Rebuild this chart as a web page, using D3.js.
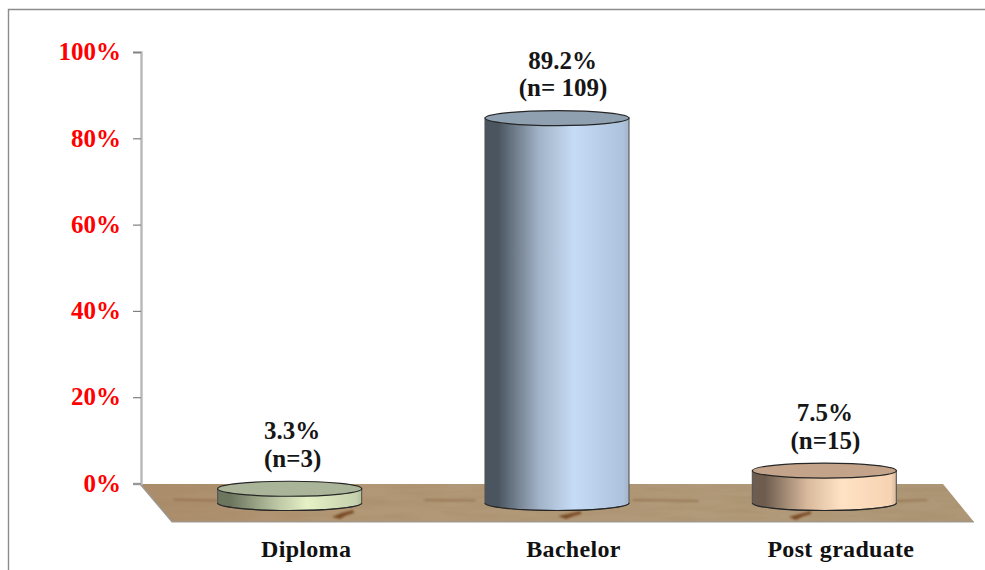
<!DOCTYPE html>
<html>
<head>
<meta charset="utf-8">
<title>Education level of respondents</title>
<script src="https://cdn.jsdelivr.net/npm/d3@7/dist/d3.min.js"></script>
<style>
  html, body { margin: 0; padding: 0; background: #fff; }
  svg { display: block; }
  text { font-family: "Liberation Serif", "Times New Roman", serif; font-weight: bold; }
</style>
</head>
<body>
<svg id="chart" width="985" height="570"></svg>
<script>
// Chart data
const categories = ["Diploma", "Bachelor", "Post graduate"];
const percentages = [3.3, 89.2, 7.5];
const percentLabels = ["3.3%", "89.2%", "7.5%"];
const countLabels = ["(n=3)", "(n= 109)", "(n=15)"];
const axisTicks = [0, 20, 40, 60, 80, 100];

// Cylinder colour ramps: dark left edge, midtone, highlight, right edge, lid
const sideDark = ["#6c755e", "#4a555f", "#6e5d4f"];
const sideMid = ["#b4bf9e", "#a3b4c9", "#d8b99c"];
const sideLight = ["#e6f1c6", "#c6dcf6", "#ffe2c4"];
const sideEdge = ["#c6d1ae", "#adc2dc", "#f6d3b2"];
const lidFill = ["#a9b498", "#8fa0b1", "#c3a389"];

const svg = d3.select("#chart");
const defs = svg.append("defs");

const y = d3.scaleLinear().domain([0, 100]).range([483.5, 52]);
const x = d3.scaleBand().domain(categories).range([156, 958]);

// Shared 3D geometry
const axisX = 141;
const floorTop = 484, floorBottom = 522;
const depth = 19.5;          // baseline of the cylinders sits below the zero line
const ry = 7.5;
const barWidth = 144;
const floorPath = `M${axisX - 1},${floorTop}L943,${floorTop}L974,${floorBottom}L172,${floorBottom}Z`;

// Small horizontal corrections for the labels above each cylinder
const labelShift = [2.5, 5.5, 0.5];

// Outer frame: top and left rules only
svg.append("path")
  .attr("d", "M985,9.5H8.5V570")
  .attr("fill", "none").attr("stroke", "#8c8c8c").attr("stroke-width", 1.4);

// Wooden floor: warm to the left, paler to the right
const wood = defs.append("linearGradient").attr("id", "wood")
  .attr("x1", 0).attr("x2", 1).attr("y1", 0).attr("y2", 0);
[[0, "#ab8d6b"], [0.25, "#b39877"], [0.5, "#b09878"], [0.75, "#b29b7b"], [1, "#ad9776"]]
  .forEach(([o, c]) => wood.append("stop").attr("offset", o).attr("stop-color", c));

defs.append("filter").attr("id", "soft")
  .attr("x", "-30%").attr("y", "-150%").attr("width", "160%").attr("height", "400%")
  .append("feGaussianBlur").attr("stdDeviation", 1.2);

// Fine mottling of the board, stretched along the grain
const mottle = defs.append("filter").attr("id", "mottle")
  .attr("filterUnits", "userSpaceOnUse")
  .attr("x", 130).attr("y", floorTop).attr("width", 850).attr("height", 40);
mottle.append("feTurbulence").attr("type", "fractalNoise")
  .attr("baseFrequency", "0.018 0.14").attr("numOctaves", 3).attr("seed", 4);
mottle.append("feColorMatrix").attr("type", "matrix")
  .attr("values", "0 0 0 0 0.36  0 0 0 0 0.24  0 0 0 0 0.12  1.6 0 0 0 -0.62");

defs.append("clipPath").attr("id", "floorClip").append("path").attr("d", floorPath);

svg.append("path").attr("d", floorPath).attr("fill", "url(#wood)");
svg.append("g").attr("clip-path", "url(#floorClip)")
  .append("rect")
  .attr("x", 130).attr("y", floorTop).attr("width", 850).attr("height", 40)
  .attr("filter", "url(#mottle)").attr("opacity", 0.45);
svg.append("path")
  .attr("d", `M${axisX - 1},${floorTop}L172,${floorBottom}L974,${floorBottom}`)
  .attr("fill", "none").attr("stroke", "#9a9a9a").attr("stroke-width", 1.2);

// Grain streaks across the board
const grain = svg.append("g").attr("filter", "url(#soft)")
  .attr("stroke", "#7d5630").attr("fill", "none").attr("stroke-linecap", "round");
["M174,499.5L217,500.5", "M425,500L475,500.5", "M633,500L698,501", "M897,501L927,500"]
  .forEach(d => grain.append("path").attr("d", d).attr("stroke-width", 1.4).attr("opacity", 0.6));

// Dark knots in the wood
svg.append("g").attr("filter", "url(#soft)").attr("fill", "#7a4c28")
  .selectAll("path")
  .data(["M332,517Q342,512 353,510L354,513Q345,515 340,519Z",
         "M558,516Q568,514 581,511L581,514Q572,516 566,519Z",
         "M789,517Q799,514 811,511L811,514Q802,516 796,520Z"])
  .join("path").attr("d", d => d);

// Value axis
const axis = svg.append("g")
  .attr("transform", `translate(${axisX},0)`)
  .call(d3.axisLeft(y).tickValues(axisTicks).tickFormat(d => d + "%").tickSize(8).tickPadding(12));
axis.select(".domain").attr("stroke", "#b8b8b8").attr("stroke-width", 2.4);
axis.selectAll(".tick line").attr("stroke", "#808080").attr("stroke-width", 1.2);
axis.selectAll(".tick text")
  .attr("fill", "#ff0000")
  .attr("font-size", 25)
  .attr("font-family", "Liberation Serif")
  .attr("dy", "0.31em");

// Cylinders
percentages.forEach((v, i) => {
  const grad = defs.append("linearGradient").attr("id", "side" + i)
    .attr("x1", 0).attr("x2", 1).attr("y1", 0).attr("y2", 0);
  [[0, sideDark[i]], [0.09, sideDark[i]], [0.38, sideMid[i]], [0.62, sideLight[i]], [0.96, sideEdge[i]], [1, sideMid[i]]]
    .forEach(([o, c]) => grad.append("stop").attr("offset", o).attr("stop-color", c));
});

const bars = svg.append("g").selectAll("g").data(categories).join("g");
const centre = d => x(d) + x.bandwidth() / 2;

bars.append("path")
  .attr("fill", (d, i) => `url(#side${i})`)
  .attr("stroke", "#555")
  .attr("stroke-width", 1.1)
  .attr("d", (d, i) => {
    const l = centre(d) - barWidth / 2, r = centre(d) + barWidth / 2;
    const top = y(percentages[i]) + depth, base = y(0) + depth;
    return `M${l},${top}L${l},${base}A${barWidth / 2},${ry} 0 0 0 ${r},${base}L${r},${top}Z`;
  });

// Darker rim along the foot of each cylinder
bars.append("path")
  .attr("fill", "none")
  .attr("stroke", "#262626")
  .attr("stroke-width", 1.2)
  .attr("d", d => {
    const l = centre(d) - barWidth / 2, r = centre(d) + barWidth / 2, base = y(0) + depth;
    return `M${l},${base}A${barWidth / 2},${ry} 0 0 0 ${r},${base}`;
  });

bars.append("ellipse")
  .attr("cx", centre)
  .attr("cy", (d, i) => y(percentages[i]) + depth)
  .attr("rx", barWidth / 2)
  .attr("ry", ry)
  .attr("fill", (d, i) => lidFill[i])
  .attr("stroke", "#262626")
  .attr("stroke-width", 1.2);

// Percentage and count above each cylinder
const labels = svg.append("g").attr("text-anchor", "middle").attr("fill", "#161616").attr("font-size", 25);
labels.selectAll("text.pct").data(percentLabels).join("text")
  .attr("class", "pct")
  .attr("x", (d, i) => centre(categories[i]) + labelShift[i])
  .attr("y", (d, i) => y(percentages[i]) - 30)
  .text(d => d);
labels.selectAll("text.cnt").data(countLabels).join("text")
  .attr("class", "cnt")
  .attr("x", (d, i) => centre(categories[i]) + labelShift[i] + 0.5)
  .attr("y", (d, i) => y(percentages[i]) - 2.5)
  .text(d => d);

// Category names under the floor
svg.append("g").attr("text-anchor", "middle").attr("fill", "#111").attr("font-size", 24)
  .selectAll("text").data(categories).join("text")
  .attr("x", d => centre(d) + 16.5)
  .attr("y", 557)
  .attr("letter-spacing", 0.3)
  .attr("word-spacing", 1)
  .text(d => d);
</script>
</body>
</html>
